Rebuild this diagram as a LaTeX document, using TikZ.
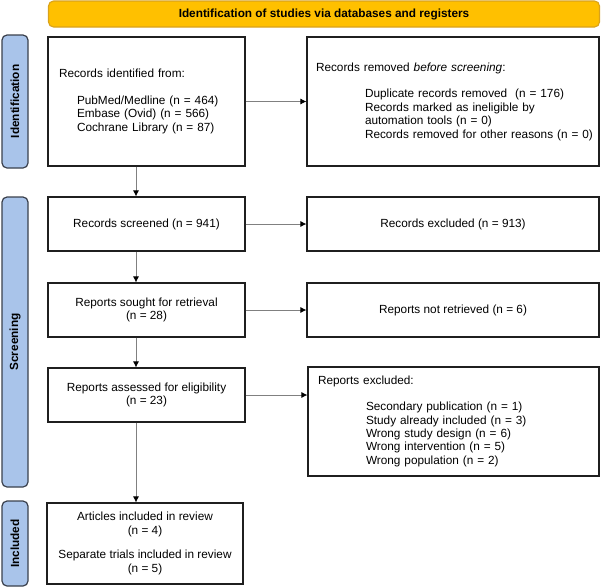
\documentclass[tikz,border=0pt]{standalone}
\usepackage{fontspec}
\setmainfont{Liberation Sans}
\usetikzlibrary{positioning,shapes,arrows.meta}

\definecolor{headfill}{HTML}{FFC000}
\definecolor{headline}{HTML}{D9A21B}
\definecolor{phasefill}{HTML}{A9C4EA}
\definecolor{phaseline}{HTML}{3A404C}
\definecolor{flowgray}{HTML}{808080}

\tikzset{
    box/.style={draw=black!88, line width=1.1pt, rectangle, inner xsep=0pt,
        font=\fontsize{11.8}{13.4}\selectfont},
    lbox/.style={box, align=left},
    cbox/.style={box, align=center},
    header/.style={draw=headline, line width=1.1pt, fill=headfill, rounded corners=5pt,
        font=\fontsize{11.8}{13.4}\selectfont\bfseries},
    phase/.style={draw=phaseline, line width=1.2pt, fill=phasefill, rounded corners=5pt,
        rotate=90, minimum height=26pt, font=\fontsize{11.8}{13.4}\selectfont\bfseries},
    flow/.style={draw=flowgray, line width=0.9pt, -{Latex[color=black,length=6pt,width=6pt]}}
}

\begin{document}
\begin{tikzpicture}[x=1pt, y=-1pt]
        \useasboundingbox (0,0) rectangle (601,587);

        \node[header, minimum width=551pt, minimum height=26pt] (title) at (324,14) {Identification of studies via databases and registers};

        \node[phase, minimum width=133pt] (phaseid) at (15,101.5) {Identification};
        \node[phase, minimum width=290pt] (phasescr) at (15,342) {Screening};
        \node[phase, minimum width=85pt] (phaseinc) at (15,543.5) {Included};

        \node[lbox, minimum width=197pt, minimum height=129pt, text width=175pt] (ident) at (146.5,101.5)
        {Records identified from:\\[13.4pt]
        \hspace*{18pt}PubMed/Medline (n = 464)\\
        \hspace*{18pt}Embase (Ovid) (n = 566)\\
        \hspace*{18pt}Cochrane Library (n = 87)};
        \node[lbox, minimum width=292pt, minimum height=129pt, text width=274pt] (removed) at (453,101.5)
        {Records removed \textit{before screening}:\\[13.4pt]
        \hspace*{49pt}\mbox{Duplicate records removed\ \ (n = 176)}\\
        \hspace*{49pt}\mbox{Records marked as ineligible by}\\
        \hspace*{49pt}\mbox{automation tools (n = 0)}\\
        \hspace*{49pt}\mbox{Records removed for other reasons (n = 0)}};

        \node[cbox, minimum width=197pt, minimum height=54pt] (screened) at (146.5,224) {Records screened (n = 941)};
        \node[cbox, minimum width=292pt, minimum height=54pt] (excluded) at (453,224) {Records excluded (n = 913)};

        \node[cbox, minimum width=197pt, minimum height=54pt] (sought) at (146.5,310) {Reports sought for retrieval\\(n = 28)};
        \node[cbox, minimum width=292pt, minimum height=54pt] (notretrieved) at (453,310) {Reports not retrieved (n = 6)};

        \node[cbox, minimum width=197pt, minimum height=54pt] (assessed) at (146.5,395) {Reports assessed for eligibility\\(n = 23)};
        \node[lbox, minimum width=291pt, minimum height=109pt, text width=271pt] (reportsexcl) at (453.5,421.5)
        {Reports excluded:\\[12.6pt]
        \hspace*{48pt}Secondary publication (n = 1)\\
        \hspace*{48pt}Study already included (n = 3)\\
        \hspace*{48pt}Wrong study design (n = 6)\\
        \hspace*{48pt}Wrong intervention (n = 5)\\
        \hspace*{48pt}Wrong population (n = 2)};

        \node[cbox, minimum width=196pt, minimum height=81pt] (included) at (145,543.5)
        {Articles included in review\\(n = 4)\\[11pt]
        Separate trials included in review\\(n = 5)};

        \draw[flow] (ident.east) -- (removed.west);
        \draw[flow] (screened.east) -- (excluded.west);
        \draw[flow] (sought.east) -- (notretrieved.west);
        \draw[flow] (assessed.east) -- (assessed.east -| reportsexcl.west);

        \draw[flow] ([xshift=-10.5pt]ident.south) -- ([xshift=-10.5pt]screened.north);
        \draw[flow] ([xshift=-10.5pt]screened.south) -- ([xshift=-10.5pt]sought.north);
        \draw[flow] ([xshift=-10.5pt]sought.south) -- ([xshift=-10.5pt]assessed.north);
        \draw[flow] ([xshift=-10.5pt]assessed.south) -- ([xshift=-10.5pt]assessed.south |- included.north);
\end{tikzpicture}
\end{document}
